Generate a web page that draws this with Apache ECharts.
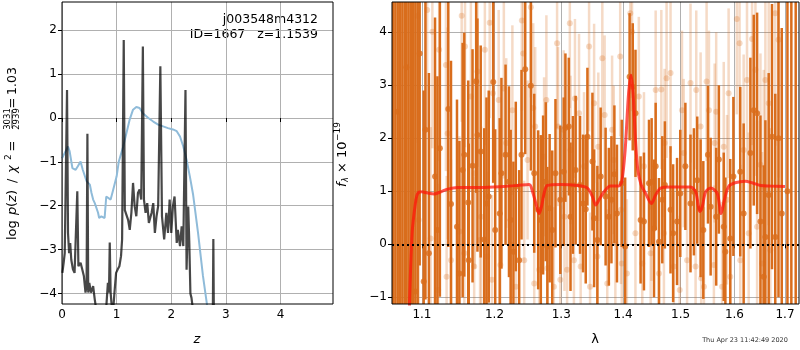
<!DOCTYPE html>
<html>
<head>
<meta charset="utf-8">
<script src="https://cdn.jsdelivr.net/npm/echarts@6/dist/echarts.min.js"></script>
<style>html,body{margin:0;padding:0;background:#fff}#chart{width:800px;height:350px}</style>
</head>
<body>
<div id="chart"></div>
<script>
// ---- p(z) panel ----
const zTicks = [0, 1, 2, 3, 4];
const pTicks = [-4, -3, -2, -1, 0, 1, 2];

// chi2 curve (light blue)
const zBlue = [0.00,0.11,0.14,0.19,0.25,0.29,0.34,0.38,0.45,0.51,0.54,0.57,0.60,0.66,0.68,0.72,0.78,0.81,0.84,0.89,0.93,
               1.00,1.04,1.12,1.18,1.24,1.30,1.36,1.42,1.48,1.58,1.67,1.76,1.85,1.94,2.03,2.10,2.16,2.22,2.28,2.34,2.40,2.49,2.58,2.65,2.70];
const pBlue = [-0.92,-0.65,-0.76,-1.14,-1.18,-1.10,-0.99,-1.18,-1.44,-1.52,-1.71,-1.86,-1.94,-2.16,-2.28,-2.24,-2.28,-1.79,-1.75,-1.86,-1.67,
               -1.33,-0.99,-0.65,-0.34,-0.03,0.19,0.25,0.23,0.11,0.00,-0.08,-0.15,-0.19,-0.23,-0.26,-0.30,-0.42,-0.65,-0.95,-1.33,-1.75,-2.62,-3.60,-4.22,-4.80];

// log p(z) (dark)
const zDark = [0.007,0.03,0.05,0.07,0.092,0.11,0.13,0.15,0.17,0.20,0.23,0.26,0.28,0.30,0.34,0.37,0.40,0.43,0.45,0.465,0.48,0.50,0.53,0.57,0.60,0.63,
               0.70,0.80,0.84,0.86,0.874,0.89,0.91,0.93,0.96,0.99,1.02,1.05,1.08,1.10,1.13,1.15,1.18,1.21,1.24,1.27,1.30,1.33,1.36,1.39,1.42,1.45,1.48,
               1.50,1.53,1.56,1.59,1.64,1.67,1.70,1.73,1.76,1.80,1.83,1.87,1.91,1.94,1.97,2.00,2.03,2.06,2.10,2.12,2.16,2.19,2.22,2.26,2.28,2.31,2.33,
               2.35,2.37,2.42,2.76,2.77,2.78,3.00,4.96];
const pDark = [-3.53,-3.30,-3.08,-3.04,0.64,-2.62,-3.08,-2.85,-3.23,-3.45,-3.53,-3.56,-1.67,-3.38,-3.30,-3.45,-3.60,-3.98,-3.83,-0.36,-3.98,-3.76,-3.98,-3.83,-4.14,-4.40,
               -4.80,-4.50,-3.76,-3.98,-2.84,-3.98,-4.29,-4.50,-3.98,-3.53,-3.45,-3.38,-3.15,-2.77,1.78,-2.10,-2.09,-2.32,-2.55,-2.16,-1.48,-2.01,-2.24,-1.71,-1.63,-1.86,1.63,
               -1.86,-2.16,-1.94,-2.39,-2.16,-1.94,-2.62,-2.24,-2.01,1.18,-2.24,-2.77,-2.16,-2.62,-1.86,-2.62,-2.01,-1.79,-2.85,-2.55,-2.92,-2.47,-2.92,0.64,-3.46,-2.02,-2.85,
               -4.00,-4.10,-4.60,-4.60,-2.76,-4.60,-4.80,-5.00];

// ---- spectrum panel ----
const lamTicks = [1.1, 1.2, 1.3, 1.4, 1.5, 1.6, 1.7];
const fTicks = [-1, 0, 1, 2, 3, 4];

const lamDark = [1.0625,1.0655,1.0685,1.0715,1.0745,1.0775,1.0797,1.0825,1.0855,1.0885,1.0914,1.0944,1.0970,1.1023,1.1046,1.1092,1.1174,1.1206,1.1239,1.1353,
  1.1390,1.1472,1.1505,1.1550,1.1573,1.1628,1.1635,1.1688,1.1739,1.1757,1.1803,1.1853,1.1885,1.1917,1.1982,1.2010,1.2075,1.2100,1.2160,1.2210,
  1.2235,1.2275,1.2310,1.2360,1.2395,1.2450,1.2535,1.2585,1.2645,1.2685,1.2720,1.2760,1.2785,1.2820,1.2860,1.2910,1.2985,1.3038,1.3065,1.3118,
  1.3145,1.3183,1.3226,1.3296,1.3344,1.3387,1.3414,1.3495,1.3522,1.3575,1.3629,1.3710,1.3763,1.3806,1.3855,1.3898,1.3978,1.4035,1.4110,1.4163,
  1.4210,1.4297,1.4355,1.4442,1.4488,1.4529,1.4558,1.4616,1.4674,1.4720,1.4820,1.4866,1.4936,1.4994,1.5086,1.5179,1.5241,1.5302,1.5364,1.5414,
  1.5500,1.5550,1.5654,1.5704,1.5796,1.5827,1.5920,1.5980,1.6112,1.6178,1.6309,1.6375,1.6441,1.6507,1.6572,1.6605,1.6671,1.6737,1.6803,1.6868,
  1.6934,1.7050,1.7130,1.7220];
const fluxDark = [6.0,-2.0,2.5,5.2,-1.8,4.8,3.34,-1.5,5.0,-2.2,-0.89,0.84,3.60,-0.70,2.16,-0.17,1.28,0.27,1.81,2.55,
  0.76,0.33,-0.55,1.40,1.69,0.79,-0.30,1.48,3.07,2.06,1.75,0.09,0.77,0.90,3.06,0.27,0.58,1.34,1.69,1.18,
  0.46,-0.14,1.09,-0.30,1.69,3.30,2.99,1.34,0.65,0.46,0.93,1.18,-0.04,0.68,0.27,1.34,0.84,1.37,2.20,2.22,
  0.52,1.12,1.40,1.12,0.77,0.66,2.03,1.56,0.49,0.08,1.28,0.90,0.52,0.84,1.32,0.58,1.15,-0.04,3.16,2.97,
  2.47,0.46,0.43,1.15,1.18,0.30,1.47,0.05,0.84,1.12,0.65,0.21,0.43,0.96,1.47,0.77,0.99,1.21,0.68,0.27,
  1.69,0.71,0.52,1.60,0.33,-0.14,0.11,1.28,1.37,0.58,1.72,2.53,2.47,0.43,-0.61,0.14,0.93,2.03,0.14,2.00,
  0.58,1.0,5.5,-2.0];
const errDark = [8,8,8,8,8,8,8,8,8,8,6,5,4,3.6,3.2,3.4,3.0,2.9,2.8,2.6,
  2.7,2.4,2.5,2.4,2.3,2.3,2.2,2.2,2.1,2.2,2.0,2.1,2.0,2.0,1.9,1.9,1.8,1.8,1.7,1.8,
  1.7,1.7,1.6,1.7,1.6,1.6,1.6,1.5,1.5,1.6,1.5,1.5,1.5,1.4,1.5,1.4,1.4,1.4,1.4,1.3,
  1.4,1.3,1.4,1.3,1.3,1.4,1.3,1.3,1.3,1.4,1.3,1.3,1.3,1.2,1.3,1.3,1.2,1.3,1.2,1.2,
  1.2,1.2,1.3,1.2,1.2,1.3,1.2,1.2,1.2,1.2,1.2,1.3,1.2,1.2,1.2,1.3,1.2,1.2,1.3,1.3,
  1.3,1.3,1.3,1.4,1.4,1.4,1.5,1.5,1.6,1.7,1.8,1.8,1.9,2.0,2.1,2.2,2.3,2.5,2.7,3.0,
  3.5,8,8,8];

const lamLight = [1.0944,1.0957,1.1069,1.1115,1.1138,1.1216,1.1229,1.1321,1.1330,1.1344,1.1390,1.1505,1.1537,1.1573,1.1583,1.1665,1.1711,1.1720,1.1757,1.1794,
  1.1810,1.1862,1.1894,1.1931,1.1963,1.1977,1.2060,1.2085,1.2135,1.2170,1.2235,1.2260,1.2310,1.2400,1.2420,1.2435,1.2485,1.2535,1.2570,1.2585,
  1.2600,1.2660,1.2735,1.2770,1.2785,1.2885,1.2935,1.2950,1.2985,1.3038,1.3050,1.3091,1.3134,1.3145,1.3199,1.3215,1.3280,1.3306,1.3360,1.3441,
  1.3457,1.3522,1.3575,1.3590,1.3656,1.3694,1.3737,1.3817,1.3844,1.3871,1.3952,1.3965,1.3978,1.4064,1.4122,1.4151,1.4209,1.4267,1.4326,1.4355,
  1.4471,1.4485,1.4558,1.4616,1.4657,1.4703,1.4715,1.4750,1.4820,1.4878,1.4983,1.5025,1.5056,1.5117,1.5179,1.5272,1.5284,1.5364,1.5375,1.5426,
  1.5475,1.5519,1.5611,1.5625,1.5654,1.5765,1.5796,1.5858,1.5889,1.5920,1.6046,1.6099,1.6112,1.6178,1.6243,1.6276,1.6342,1.6408,1.6441,1.6507,
  1.6540,1.6572,1.6605,1.6671,1.6704,1.6803,1.6868];
const fluxLight = [4.31,0.46,4.42,0.11,4.01,-0.86,3.67,3.38,-0.61,2.09,-0.30,0.24,4.31,-0.17,3.73,2.79,-0.42,1.34,3.26,0.08,
  0.52,3.67,-0.23,4.18,-0.67,2.85,2.72,-0.39,2.94,1.91,-0.01,2.53,-0.80,4.22,3.60,-0.30,1.59,4.47,2.57,-0.74,
  2.22,-0.48,1.65,2.72,-0.45,-0.80,3.79,2.22,-0.67,2.16,0.52,-0.48,4.17,1.78,-0.30,2.75,2.47,-0.42,1.47,3.73,
  -0.80,2.66,-0.23,1.84,3.51,2.44,-0.74,2.16,1.59,0.02,3.54,0.65,-0.36,-0.55,4.36,4.01,0.21,2.79,-0.36,1.47,
  -0.17,0.71,2.91,-0.55,2.92,0.21,1.91,3.13,3.23,-0.42,-0.86,2.53,1.72,-0.30,3.04,-0.42,2.91,2.22,-0.64,-0.80,
  3.07,2.53,-0.39,1.91,2.50,-0.80,1.84,0.84,2.85,-0.61,4.25,3.79,-0.30,1.78,3.10,0.21,3.87,3.29,0.33,1.50,
  -0.36,1.09,3.10,2.66,-0.11,4.36,3.86];
const errLight = [2.4,2.2,2.3,2.1,2.2,2.0,2.1,2.0,1.9,2.0,1.9,1.8,2.0,1.8,1.9,1.8,1.7,1.8,1.8,1.7,
  1.7,1.8,1.6,1.8,1.6,1.7,1.7,1.6,1.7,1.6,1.6,1.6,1.5,1.7,1.6,1.5,1.5,1.7,1.6,1.5,
  1.5,1.5,1.5,1.6,1.4,1.5,1.6,1.5,1.4,1.5,1.4,1.4,1.6,1.4,1.4,1.5,1.5,1.4,1.4,1.6,
  1.4,1.5,1.4,1.4,1.5,1.5,1.4,1.4,1.4,1.4,1.5,1.4,1.4,1.4,1.6,1.5,1.4,1.5,1.4,1.4,
  1.4,1.4,1.5,1.4,1.5,1.4,1.4,1.5,1.5,1.4,1.4,1.5,1.4,1.4,1.5,1.4,1.5,1.4,1.4,1.5,
  1.5,1.5,1.5,1.5,1.5,1.6,1.6,1.6,1.6,1.7,1.8,1.8,1.8,1.8,1.9,1.9,2.0,2.0,2.0,2.1,
  2.1,2.2,2.2,2.3,2.3,2.5,2.6];

// best-fit model (red)
const lamModel = [1.0836,1.0871,1.0914,1.0944,1.1000,1.1069,1.1160,1.1252,1.1344,1.1482,1.1803,1.2135,1.2335,1.2510,1.2560,1.2610,1.2660,1.2695,1.2735,1.2785,
  1.2985,1.3253,1.3414,1.3495,1.3548,1.3602,1.3683,1.3790,1.3925,1.3978,1.4035,1.4093,1.4134,1.4169,1.4210,1.4250,1.4308,1.4384,1.4483,1.4558,
  1.4645,1.4820,1.5179,1.5272,1.5352,1.5395,1.5457,1.5550,1.5673,1.5747,1.5809,1.5889,1.6013,1.6211,1.6342,1.6507,1.6704,1.7000];
const fluxModel = [-1.20,0.21,0.77,0.96,0.99,0.97,0.95,0.99,1.04,1.07,1.07,1.09,1.11,1.13,0.99,0.77,0.58,0.71,0.96,1.11,
  1.13,1.11,1.06,0.90,0.74,0.84,0.99,1.10,1.10,1.18,1.78,2.85,3.19,2.85,1.97,1.40,1.12,0.96,0.77,0.93,
  1.06,1.08,1.08,0.99,0.62,0.71,0.99,1.06,0.96,0.58,0.84,1.09,1.16,1.19,1.16,1.11,1.10,1.09];

const FONT = 'DejaVu Sans';
const ORANGE = '#d96d1c';
const LIGHT = 'rgba(217,109,28,0.25)';
const LIGHT_DOT = 'rgba(217,109,28,0.32)';

const minus = v => String(v).replace('-', '\u2212');
const pairs = (xs, ys) => xs.map((x, i) => [x, ys[i]]);
const triples = (xs, ys, es) => xs.map((x, i) => [x, ys[i], es[i]]);

function axisOpts(extra, ticks, fmt) {
    return Object.assign({
        axisLine: { show: false },
        axisTick: { show: true, customValues: ticks, length: 4, lineStyle: { color: '#000', width: 1 } },
        axisLabel: { customValues: ticks, formatter: fmt, color: '#000', fontSize: 12, fontFamily: FONT, margin: 5 },
        splitLine: { show: true, lineStyle: { color: '#b0b0b0', width: 1 } }
    }, extra);
}

function errBar(color, width) {
    return function (params, api) {
        const x = api.value(0), y = api.value(1), e = api.value(2);
        const a = api.coord([x, y - e]), b = api.coord([x, y + e]);
        return {
            type: 'line',
            shape: { x1: a[0], y1: a[1], x2: b[0], y2: b[1] },
            style: { stroke: color, lineWidth: width }
        };
    };
}

// small helper for label pieces placed along a rotated baseline
function piece(x, y, text, size, italic, align) {
    return {
        type: 'text', x: x, y: y,
        style: {
            text: text, fontSize: size, fontFamily: FONT, fontStyle: italic ? 'italic' : 'normal',
            fill: '#000', align: align || 'left', verticalAlign: 'middle'
        }
    };
}

const chart = echarts.init(document.getElementById('chart'));
chart.setOption({
    animation: false,
    textStyle: { fontFamily: FONT },
    grid: [
        { left: 62, top: 2, width: 271, height: 302, show: true, borderColor: '#000', borderWidth: 1, z: 10 },
        { left: 392, top: 2, width: 407, height: 302, show: true, borderColor: '#000', borderWidth: 1, z: 10 }
    ],
    xAxis: [
        axisOpts({ type: 'value', gridIndex: 0, min: 0, max: 4.96 }, zTicks, v => minus(v)),
        axisOpts({ type: 'log', logBase: 10, gridIndex: 1, min: 1.0612, max: 1.7288 }, lamTicks, v => v.toFixed(1))
    ],
    yAxis: [
        axisOpts({ type: 'value', gridIndex: 0, min: -4.24, max: 2.645 }, pTicks, v => minus(v)),
        axisOpts({ type: 'value', gridIndex: 1, min: -1.126, max: 4.57 }, fTicks, v => minus(v))
    ],
    series: [
        {
            type: 'line', xAxisIndex: 0, yAxisIndex: 0, data: pairs(zBlue, pBlue),
            showSymbol: false, lineStyle: { color: '#8fbbd9', width: 2 }
        },
        {
            type: 'line', xAxisIndex: 0, yAxisIndex: 0, data: pairs(zDark, pDark),
            showSymbol: false, lineStyle: { color: 'rgba(0,0,0,0.72)', width: 2.2 }
        },
        {
            type: 'custom', xAxisIndex: 1, yAxisIndex: 1, clip: true,
            renderItem: errBar(LIGHT, 2.5), data: triples(lamLight, fluxLight, errLight)
        },
        {
            type: 'scatter', xAxisIndex: 1, yAxisIndex: 1, symbolSize: 6,
            itemStyle: { color: LIGHT_DOT }, data: pairs(lamLight, fluxLight)
        },
        {
            type: 'custom', xAxisIndex: 1, yAxisIndex: 1, clip: true,
            renderItem: errBar(ORANGE, 2.5), data: triples(lamDark, fluxDark, errDark)
        },
        {
            type: 'scatter', xAxisIndex: 1, yAxisIndex: 1, symbolSize: 6,
            itemStyle: { color: ORANGE }, data: pairs(lamDark, fluxDark)
        },
        {
            type: 'line', xAxisIndex: 1, yAxisIndex: 1, data: pairs(lamModel, fluxModel),
            showSymbol: false, smooth: 0.3, lineStyle: { color: 'rgba(255,20,10,0.72)', width: 3 },
            markLine: {
                silent: true, symbol: 'none', label: { show: false },
                lineStyle: { color: '#000', width: 2, type: [2, 3] },
                data: [{ yAxis: 0 }]
            }
        }
    ],
    graphic: [
        {
            type: 'text', x: 318, y: 20,
            style: { text: 'j003548m4312', fontSize: 12.5, fontFamily: FONT, fill: '#000', align: 'right', verticalAlign: 'middle' }
        },
        {
            type: 'text', x: 318, y: 35,
            style: { text: 'ID=1667   z=1.1539', fontSize: 12.5, fontFamily: FONT, fill: '#000', align: 'right', verticalAlign: 'middle' }
        },
        {
            type: 'text', x: 197, y: 340,
            style: { text: 'z', fontSize: 13, fontStyle: 'italic', fontFamily: FONT, fill: '#000', align: 'center', verticalAlign: 'middle' }
        },
        {
            type: 'text', x: 595, y: 340,
            style: { text: 'λ', fontSize: 13, fontFamily: FONT, fill: '#000', align: 'center', verticalAlign: 'middle' }
        },
        {
            type: 'text', x: 745, y: 340,
            style: { text: 'Thu Apr 23 11:42:49 2020', fontSize: 6.5, fontFamily: FONT, fill: '#333', align: 'center', verticalAlign: 'middle' }
        },
        {
            // left y label, reads bottom to top
            type: 'group', x: 13, y: 240, rotation: Math.PI / 2,
            children: [
                piece(0, 0, 'log', 13),
                piece(25, 0, 'p', 13, true),
                piece(33, 0, '(', 13),
                piece(38, 0, 'z', 13, true),
                piece(45, 0, ')', 13),
                piece(57, 0, '/', 13),
                piece(67, 0, 'χ', 13, true),
                piece(80, -4, '2', 9),
                piece(94, 0, '=', 13, false, 'center'),
                piece(121, -5, '3031', 8.5, false, 'center'),
                { type: 'line', shape: { x1: 112, y1: -1, x2: 130, y2: -1 }, style: { stroke: '#000', lineWidth: 0.8 } },
                piece(121, 4, '2939', 8.5, false, 'center'),
                piece(137, 0, '=', 13, false, 'center'),
                piece(145, 0, '1.03', 12.5)
            ]
        },
        {
            type: 'group', x: 343, y: 187, rotation: Math.PI / 2,
            children: [
                piece(0, 0, 'f', 13, true),
                piece(5, 3, 'λ', 8, true),
                piece(14, 0, '× 10', 13),
                piece(46, -5, '−19', 9)
            ]
        }
    ]
});
</script>
</body>
</html>
